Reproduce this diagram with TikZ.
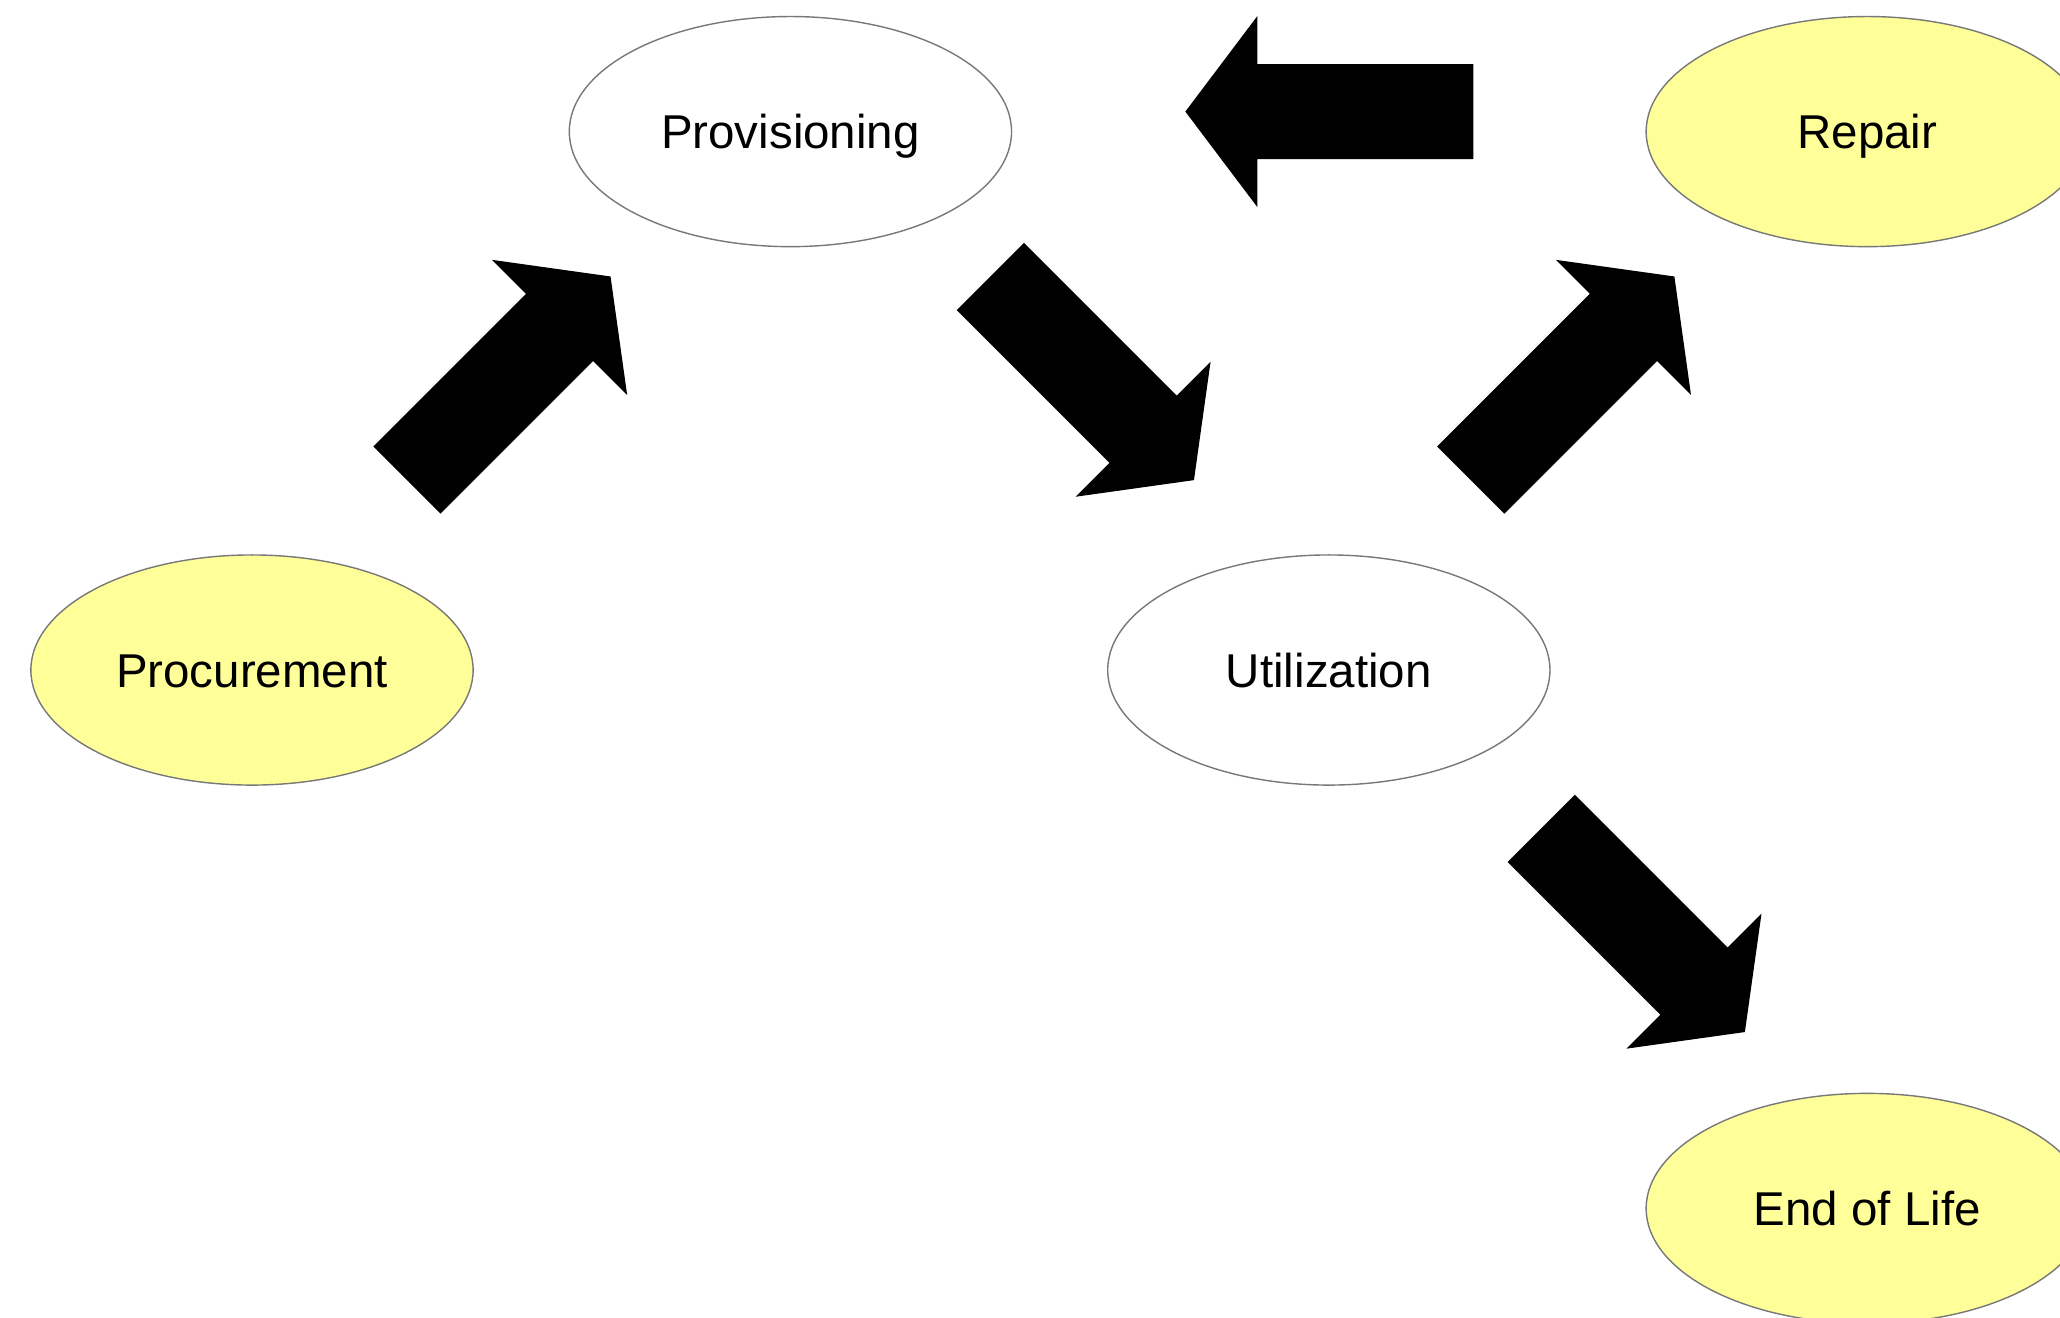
\documentclass[tikz,border=0pt]{standalone}
\usepackage{fontspec}
\setmainfont{Liberation Sans}
\usetikzlibrary{positioning,calc,shapes.geometric}

\definecolor{stageyellow}{RGB}{255,255,153}
\definecolor{stageline}{RGB}{120,120,120}

\tikzset{
  stage/.style={ellipse, draw=stageline, line width=0.4pt, inner sep=0pt,
    minimum width=4.42cm, minimum height=2.3cm,
    text height=0.345cm, text depth=0pt,
    font=\fontsize{13.5}{16}\selectfont},
  extstage/.style={stage, fill=stageyellow},
  bigarrow/.pic={
    \fill[black] (-144,-47.5) -- (72,-47.5) -- (72,-95.5) -- (144,0)
      -- (72,95.5) -- (72,47.5) -- (-144,47.5) -- cycle;
  }
}

\begin{document}
\begin{tikzpicture}[x=0.01cm, y=-0.01cm, node distance=7.61cm]
	\useasboundingbox (0,0) rectangle (2060,1317);
	\clip (0,0) rectangle (2060,1317);

	\node(proc) [extstage] at (252,670) {Procurement};
	\node(prov) [stage, above right of=proc] {Provisioning};
	\node(util) [stage, below right of=prov] {Utilization};
	\node(rep) [extstage, above right of=util] {Repair};
	\node(eol) [extstage, below right of=util] {End of Life};

	\pic[rotate=45] at ($(proc)!.5!(prov)+(-12.5,-22.5)$) {bigarrow};
	\pic[rotate=-45] at ($(prov)!.5!(util)+(32.5,-22.5)$) {bigarrow};
	\pic[rotate=45] at ($(util)!.5!(rep)+(-25.5,-22.5)$) {bigarrow};
	\pic[rotate=180] at ($(prov)!.5!(rep)+(0.5,-20)$) {bigarrow};
	\pic[rotate=-45] at ($(util)!.5!(eol)+(45,-9)$) {bigarrow};
\end{tikzpicture}
\end{document}
